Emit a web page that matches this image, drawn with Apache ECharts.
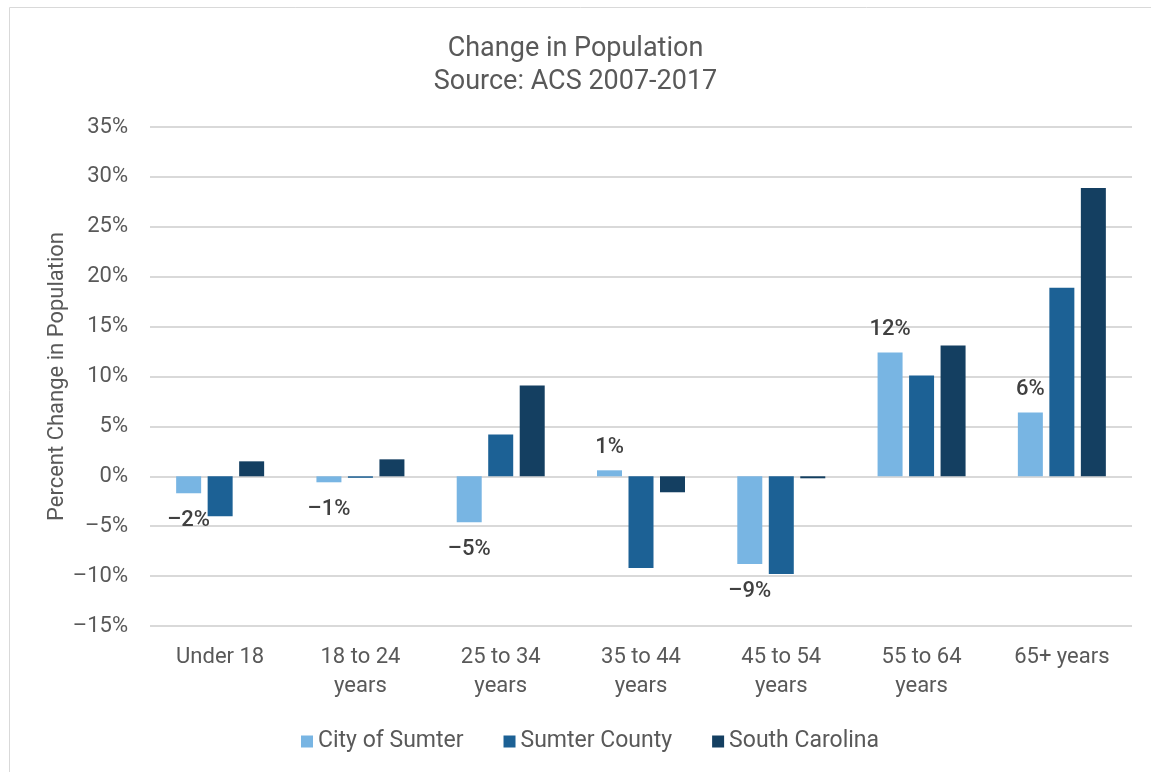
<!DOCTYPE html>
<html>
<head>
<meta charset="utf-8">
<script src="https://cdn.jsdelivr.net/npm/echarts@6/dist/echarts.min.js"></script>
<style>
  html, body { margin: 0; padding: 0; background: #fff; }
  #chart { width: 1151px; height: 772px; }
</style>
</head>
<body>
<div id="chart"></div>
<script>
const categories = ["Under 18", "18 to 24\nyears", "25 to 34\nyears", "35 to 44\nyears", "45 to 54\nyears", "55 to 64\nyears", "65+ years"];
const series_names = ["City of Sumter", "Sumter County", "South Carolina"];
const city_values = [-1.7, -0.6, -4.6, 0.6, -8.8, 12.4, 6.4];
const county_values = [-4.0, -0.15, 4.2, -9.2, -9.8, 10.1, 18.9];
const state_values = [1.5, 1.7, 9.1, -1.6, -0.2, 13.1, 28.9];
const colors = ["#78B5E3", "#1C6195", "#143F61"];

const font = "Roboto, 'DejaVu Sans', sans-serif";

// labels only on the city series, outside the bar end
function city_data() {
    return city_values.map(v => ({
        value: v,
        label: {
            show: true,
            position: v < 0 ? "bottom" : "top",
            distance: v < 0 ? 16 : 12,
            formatter: (v < 0 ? "\u2013" : "") + Math.abs(Math.round(v)) + "%",
            fontSize: 22,
            fontWeight: 500,
            color: "#404040",
            fontFamily: font,
        },
    }));
}

const chart = echarts.init(document.getElementById("chart"));
chart.setOption({
    animation: false,
    color: colors,
    textStyle: { fontFamily: font },
    graphic: [
        {
            type: "rect",
            shape: { x: 9.5, y: 7.5, width: 1160, height: 800 },
            style: { fill: "none", stroke: "#d9d9d9", lineWidth: 1 },
            silent: true,
        },
    ],
    title: {
        text: "Change in Population",
        subtext: "Source: ACS 2007-2017",
        left: "center",
        top: 31,
        itemGap: 6,
        textStyle: { fontSize: 27, fontWeight: "normal", color: "#595959", fontFamily: font },
        subtextStyle: { fontSize: 27, color: "#595959", fontFamily: font },
    },
    legend: {
        data: series_names,
        left: 296,
        top: 725,
        icon: "rect",
        itemWidth: 12,
        itemHeight: 12,
        itemGap: 40,
        textStyle: { fontSize: 23, color: "#595959", fontFamily: font },
    },
    grid: { left: 150, right: 19, top: 127, bottom: 146 },
    xAxis: {
        type: "category",
        data: categories,
        axisLine: { show: false },
        axisTick: { show: false },
        axisLabel: {
            fontSize: 22,
            color: "#595959",
            lineHeight: 29,
            margin: 17,
            interval: 0,
            fontFamily: font,
        },
    },
    yAxis: {
        type: "value",
        min: -15,
        max: 35,
        interval: 5,
        name: "Percent Change in Population",
        nameLocation: "middle",
        nameGap: 82,
        nameMoveOverlap: false,
        nameTextStyle: { fontSize: 22, color: "#595959", fontFamily: font },
        axisLabel: {
            formatter: v => (v < 0 ? "\u2013" + Math.abs(v) : v) + "%",
            fontSize: 22,
            color: "#595959",
            margin: 22,
            fontFamily: font,
        },
        splitLine: { lineStyle: { color: "#d9d9d9", width: 2 } },
    },
    series: [
        {
            name: series_names[0],
            type: "bar",
            barWidth: 25,
            barGap: "26%",
            data: city_data(),
        },
        {
            name: series_names[1],
            type: "bar",
            barWidth: 25,
            barGap: "26%",
            data: county_values,
        },
        {
            name: series_names[2],
            type: "bar",
            barWidth: 25,
            barGap: "26%",
            data: state_values,
        },
    ],
});
</script>
</body>
</html>
